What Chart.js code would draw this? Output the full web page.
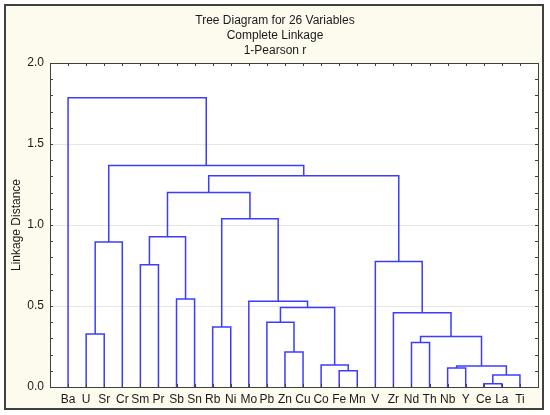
<!DOCTYPE html>
<html>
<head>
<meta charset="utf-8">
<script src="https://cdn.jsdelivr.net/npm/chart.js@4.4.0/dist/chart.umd.min.js"></script>
<style>
  html, body { margin: 0; padding: 0; background: #fff; }
</style>
</head>
<body>
<canvas id="myChart" width="550" height="415"></canvas>
<script>
// leaves in display order
const leaves = ['Ba', 'U', 'Sr', 'Cr', 'Sm', 'Pr', 'Sb', 'Sn', 'Rb', 'Ni', 'Mo', 'Pb', 'Zn',
  'Cu', 'Co', 'Fe', 'Mn', 'V', 'Zr', 'Nd', 'Th', 'Nb', 'Y', 'Ce', 'La', 'Ti'];

// merges: ids 0..25 are leaves, merge k gets id 26 + k
const mergeLeft   = [1, 26, 4, 6, 28, 8, 12, 11, 15, 14, 33, 10, 31, 30, 19, 21, 23, 42, 41, 40, 18, 17, 39, 27, 0];
const mergeRight  = [2, 3, 5, 7, 29, 9, 13, 32, 16, 34, 35, 36, 37, 38, 20, 22, 24, 25, 43, 44, 45, 46, 47, 48, 49];
const mergeHeight = [0.327, 0.895, 0.755, 0.543, 0.928, 0.370, 0.216, 0.399, 0.101, 0.136, 0.490, 0.529,
  1.039, 1.200, 0.274, 0.117, 0.020, 0.074, 0.130, 0.311, 0.459, 0.774, 1.304, 1.368, 1.786];

const yTicks = [0, 0.5, 1.0, 1.5, 2.0];

// build the links of the tree (each one a ⊓ shape)
const nodeX = leaves.map((_, i) => i + 1);
const nodeH = leaves.map(() => 0);
const links = [];
mergeLeft.forEach((a, k) => {
  const b = mergeRight[k];
  const h = mergeHeight[k];
  links.push([
    {x: nodeX[a], y: nodeH[a]},
    {x: nodeX[a], y: h},
    {x: nodeX[b], y: h},
    {x: nodeX[b], y: nodeH[b]}
  ]);
  nodeX.push((nodeX[a] + nodeX[b]) / 2);
  nodeH.push(h);
});

const blue = '#3c3cff';
const dark = '#404040';
const textColor = '#1a1a1a';

// cream frame and white plot area
const frame = {
  id: 'frame',
  beforeDraw(chart) {
    const {ctx, chartArea: {left, top, right, bottom}} = chart;
    ctx.save();
    ctx.fillStyle = '#fff';
    ctx.fillRect(0, 0, chart.width, chart.height);
    ctx.fillStyle = '#fdfaee';
    ctx.fillRect(5, 5, 538, 404);
    ctx.strokeStyle = dark;
    ctx.lineWidth = 2;
    ctx.strokeRect(5, 5, 538, 404);
    ctx.fillStyle = '#fff';
    ctx.fillRect(left, top, right - left, bottom - top);
    ctx.restore();
  }
};

// small inward ticks on all four sides
const innerTicks = {
  id: 'innerTicks',
  afterDraw(chart) {
    const {ctx, chartArea: {left, top, right, bottom}, scales: {x, y}} = chart;
    ctx.save();
    ctx.strokeStyle = dark;
    ctx.lineWidth = 1;
    ctx.beginPath();
    for (let i = 0; i <= 20; i++) {
      const py = Math.round(y.getPixelForValue(i / 10)) + 0.5;
      ctx.moveTo(left, py); ctx.lineTo(left + 3, py);
      ctx.moveTo(right, py); ctx.lineTo(right - 3, py);
    }
    leaves.forEach((_, i) => {
      const px = Math.round(x.getPixelForValue(i + 1)) + 0.5;
      ctx.moveTo(px, top); ctx.lineTo(px, top + 3);
      ctx.moveTo(px, bottom); ctx.lineTo(px, bottom - 3);
    });
    ctx.stroke();
    ctx.restore();
  }
};

const ctx = document.getElementById('myChart').getContext('2d');
const myChart = new Chart(ctx, {
  type: 'scatter',
  data: {
    datasets: links.map(pts => ({
      data: pts,
      showLine: true,
      borderColor: blue,
      borderWidth: 1.5,
      pointRadius: 0,
      tension: 0
    }))
  },
  plugins: [frame, innerTicks],
  options: {
    responsive: false,
    animation: false,
    layout: {padding: 0},
    plugins: {
      legend: {display: false},
      tooltip: {enabled: false},
      title: {
        display: true,
        text: ['Tree Diagram for 26 Variables', 'Complete Linkage', '1-Pearson r'],
        color: textColor,
        font: {family: 'Liberation Sans', size: 12, weight: 'normal', lineHeight: 1.25},
        padding: {top: 13, bottom: 5}
      }
    },
    scales: {
      x: {
        type: 'linear',
        position: 'bottom',
        min: 0,
        max: 27,
        afterBuildTicks: s => { s.ticks = leaves.map((_, i) => ({value: i + 1})); },
        afterFit: s => { s.height = 28; },
        ticks: {
          autoSkip: false,
          maxRotation: 0,
          padding: 5,
          color: textColor,
          font: {family: 'Liberation Sans', size: 12},
          callback: v => leaves[v - 1]
        },
        grid: {display: false, drawTicks: false},
        border: {color: dark}
      },
      x2: {
        type: 'linear',
        position: 'top',
        min: 0,
        max: 27,
        afterFit: s => { s.height = 0; },
        ticks: {display: false},
        grid: {display: false, drawTicks: false},
        border: {color: dark}
      },
      y: {
        min: 0,
        max: 2,
        afterBuildTicks: s => { s.ticks = yTicks.map(v => ({value: v})); },
        afterFit: s => { s.width = 50; },
        ticks: {
          padding: 6,
          color: textColor,
          font: {family: 'Liberation Sans', size: 12},
          callback: v => v.toFixed(1)
        },
        grid: {color: '#e6e6e6', drawTicks: false},
        border: {color: dark},
        title: {
          display: true,
          text: 'Linkage Distance',
          color: textColor,
          font: {family: 'Liberation Sans', size: 12},
          padding: {top: 9, bottom: 0}
        }
      },
      y2: {
        position: 'right',
        min: 0,
        max: 2,
        afterFit: s => { s.width = 12; },
        ticks: {display: false},
        grid: {display: false, drawTicks: false},
        border: {color: dark}
      }
    }
  }
});
</script>
</body>
</html>
